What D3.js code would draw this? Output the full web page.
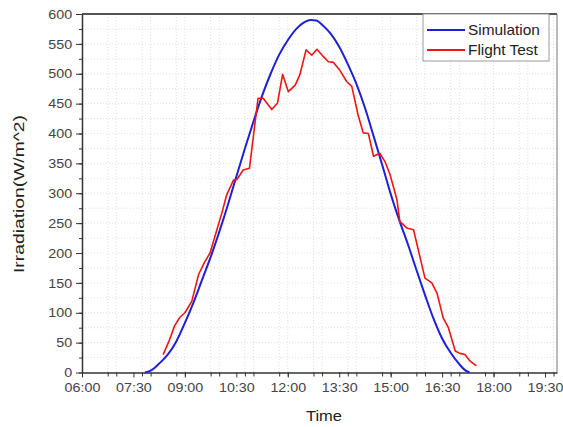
<!DOCTYPE html>
<html>
<head>
<meta charset="utf-8">
<script src="https://cdn.jsdelivr.net/npm/d3@7"></script>
<style>
  body { margin: 0; background: #fff; }
  svg { display: block; font-family: 'Liberation Sans', Arial, sans-serif; }
</style>
</head>
<body>
<div id="chart"></div>
<script>
// simulated irradiation (W/m^2)
var simTimes = ['07:50', '08:00', '08:15', '08:30', '08:45', '09:00', '09:15', '09:30', '09:45', '10:00',
                '10:15', '10:30', '10:45', '11:00', '11:15', '11:30', '11:45', '12:00', '12:15', '12:30',
                '12:40', '12:50', '13:00', '13:15', '13:30', '13:45', '14:00', '14:15', '14:30', '14:45',
                '15:00', '15:15', '15:30', '15:45', '16:00', '16:15', '16:30', '16:45', '17:00', '17:10', '17:18'];
var simValues = [0, 3, 15, 30, 52, 83, 117, 155, 193, 235,
                 280, 328, 375, 420, 463, 500, 532, 556, 575, 587,
                 590, 589, 582, 567, 545, 516, 483, 443, 396, 348,
                 299, 255, 215, 172, 130, 90, 57, 33, 14, 4, 0];

// flight test measurements
var testTimes = ['08:22', '08:32', '08:42', '08:51', '09:00', '09:12', '09:24', '09:34', '09:44', '09:56',
                 '10:05', '10:13', '10:25', '10:31', '10:42', '10:53', '11:08', '11:17', '11:32', '11:42',
                 '11:51', '12:01', '12:13', '12:21', '12:32', '12:42', '12:51', '13:02', '13:11', '13:20',
                 '13:31', '13:43', '13:52', '14:03', '14:12', '14:21', '14:30', '14:41', '14:50', '14:59',
                 '15:11', '15:16', '15:28', '15:40', '16:00', '16:12', '16:21', '16:32', '16:41', '16:53',
                 '17:01', '17:10', '17:19', '17:30'];
var testValues = [30, 52, 78, 92, 100, 119, 164, 184, 200, 239,
                  268, 297, 322, 323, 339, 342, 459, 459, 440, 451,
                  499, 470, 481, 498, 540, 531, 541, 529, 520, 519,
                  506, 487, 479, 431, 401, 400, 362, 367, 353, 331,
                  289, 253, 242, 239, 158, 150, 133, 91, 75, 36,
                  32, 30, 19, 11];

var xTickLabels = ['06:00', '07:30', '09:00', '10:30', '12:00', '13:30', '15:00', '16:30', '18:00', '19:30'];
var yTickValues = [0, 50, 100, 150, 200, 250, 300, 350, 400, 450, 500, 550, 600];

var seriesNames = ['Simulation', 'Flight Test'];
var seriesColors = ['#1f1fd8', '#f01414'];

var parseTime = d3.timeParse('%H:%M');
var stretch = 'scale(1.1,1)';

var plotLeft = 82, plotRight = 557, plotTop = 14, plotBottom = 372.5;

var svg = d3.select('#chart')
            .append('svg')
            .attr('width', 563)
            .attr('height', 427);

var x = d3.scaleTime()
          .domain([parseTime('06:00'), parseTime('19:51')])
          .range([plotLeft, plotRight]);

var y = d3.scaleLinear()
          .domain([0, 600])
          .range([plotBottom, plotTop]);

var minorX = d3.timeMinute.every(45).range(parseTime('06:00'), parseTime('19:51'));
var minorY = d3.range(0, 601, 25);

// faint dotted grid
svg.append('g')
   .selectAll('line')
   .data(minorX.slice(1))
   .enter()
   .append('line')
   .attr('x1', d => x(d))
   .attr('x2', d => x(d))
   .attr('y1', plotTop)
   .attr('y2', plotBottom)
   .attr('stroke', '#d8d8d8')
   .attr('stroke-width', 0.8)
   .attr('stroke-dasharray', '1,2');

svg.append('g')
   .selectAll('line')
   .data(minorY.slice(1, -1))
   .enter()
   .append('line')
   .attr('x1', plotLeft)
   .attr('x2', plotRight)
   .attr('y1', d => y(d))
   .attr('y2', d => y(d))
   .attr('stroke', '#d8d8d8')
   .attr('stroke-width', 0.8)
   .attr('stroke-dasharray', '1,2');

// frame top and right
svg.append('line')
   .attr('x1', plotLeft).attr('x2', plotRight)
   .attr('y1', plotTop).attr('y2', plotTop)
   .attr('stroke', '#555').attr('stroke-width', 2);

svg.append('line')
   .attr('x1', plotRight).attr('x2', plotRight)
   .attr('y1', plotTop).attr('y2', plotBottom)
   .attr('stroke', '#777').attr('stroke-width', 1);

// minor ticks
svg.append('g')
   .attr('transform', `translate(0,${plotBottom})`)
   .call(d3.axisBottom(x).tickValues(minorX).tickSize(4).tickFormat(''))
   .call(g => g.select('.domain').remove())
   .selectAll('line').attr('stroke', '#333');

svg.append('g')
   .attr('transform', `translate(${plotLeft},0)`)
   .call(d3.axisLeft(y).tickValues(minorY).tickSize(3).tickFormat(''))
   .call(g => g.select('.domain').remove())
   .selectAll('line').attr('stroke', '#333');

// major axes
var xAxis = svg.append('g')
   .attr('transform', `translate(0,${plotBottom})`)
   .call(d3.axisBottom(x)
           .tickValues(xTickLabels.map(parseTime))
           .tickFormat(d3.timeFormat('%H:%M'))
           .tickSize(5)
           .tickSizeOuter(0)
           .tickPadding(5));

var yAxis = svg.append('g')
   .attr('transform', `translate(${plotLeft},0)`)
   .call(d3.axisLeft(y)
           .tickValues(yTickValues)
           .tickSize(6)
           .tickSizeOuter(0)
           .tickPadding(3));

[xAxis, yAxis].forEach(g => {
    g.select('.domain').attr('stroke', '#333').attr('stroke-width', 1.5);
    g.selectAll('.tick line').attr('stroke', '#333');
    g.selectAll('.tick text')
     .attr('fill', '#444')
     .style('font-size', '13px')
     .attr('transform', stretch);
});

// axis titles
svg.append('text')
   .attr('transform', `translate(324,421) ${stretch}`)
   .attr('text-anchor', 'middle')
   .attr('fill', '#222')
   .style('font-size', '15px')
   .text('Time');

svg.append('text')
   .attr('transform', 'translate(24,194) rotate(-90)')
   .attr('text-anchor', 'middle')
   .attr('fill', '#222')
   .style('font-size', '15px')
   .attr('textLength', 158)
   .attr('lengthAdjust', 'spacingAndGlyphs')
   .text('Irradiation(W/m^2)');

// curves
var simData = simTimes.map((t, i) => ({ time: parseTime(t), value: simValues[i] }));
var testData = testTimes.map((t, i) => ({ time: parseTime(t), value: testValues[i] }));

svg.append('path')
   .datum(simData)
   .attr('fill', 'none')
   .attr('stroke', seriesColors[0])
   .attr('stroke-width', 2)
   .attr('d', d3.line().curve(d3.curveMonotoneX).x(d => x(d.time)).y(d => y(d.value)));

svg.append('path')
   .datum(testData)
   .attr('fill', 'none')
   .attr('stroke', seriesColors[1])
   .attr('stroke-width', 1.6)
   .attr('stroke-linejoin', 'round')
   .attr('d', d3.line().x(d => x(d.time)).y(d => y(d.value)));

// legend
var legend = svg.append('g');

legend.append('rect')
      .attr('x', 423)
      .attr('y', 14)
      .attr('width', 126)
      .attr('height', 47)
      .attr('fill', '#fff')
      .attr('stroke', '#999')
      .attr('stroke-width', 1);

seriesNames.forEach((name, i) => {
    var ly = 30 + i * 20;
    legend.append('line')
          .attr('x1', 427).attr('x2', 465)
          .attr('y1', ly).attr('y2', ly)
          .attr('stroke', seriesColors[i])
          .attr('stroke-width', 2);
    legend.append('text')
          .attr('transform', `translate(468,${ly + 5}) ${stretch}`)
          .attr('fill', '#222')
          .style('font-size', '14px')
          .text(name);
});
</script>
</body>
</html>
